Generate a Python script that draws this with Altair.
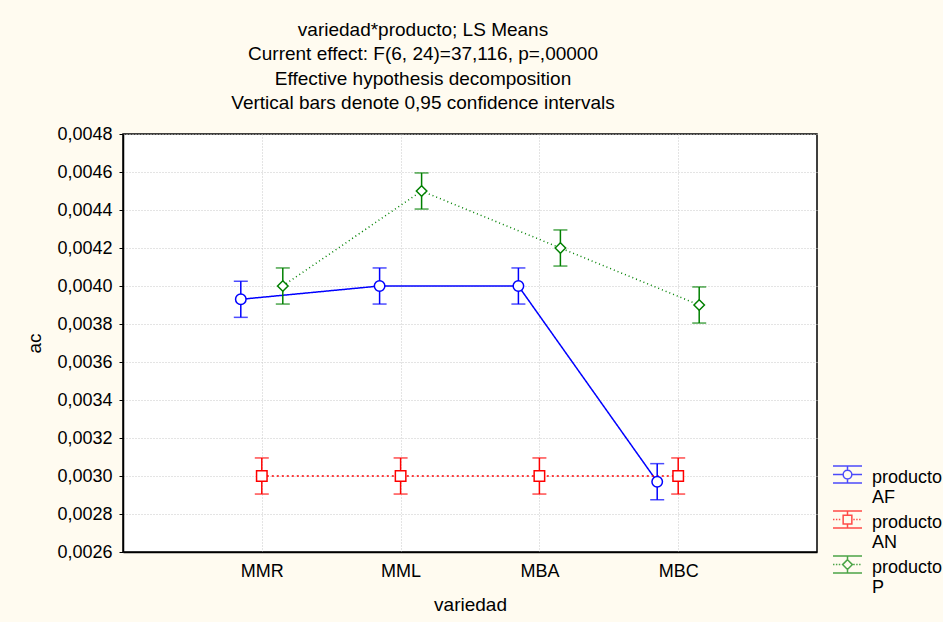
import altair as alt
import pandas as pd

# ---- data ----
variedad = ["MMR", "MML", "MBA", "MBC"]
productos = ["AF", "AN", "P"]
media_AF = [0.00393, 0.00400, 0.00400, 0.00297]
media_AN = [0.00300, 0.00300, 0.00300, 0.00300]
media_P = [0.00400, 0.00450, 0.00420, 0.00390]
ic_AF = [0.000095, 0.000095, 0.000095, 0.000095]
ic_AN = [0.000095, 0.000095, 0.000095, 0.000095]
ic_P = [0.000095, 0.000095, 0.000095, 0.000095]
y_ticks = [0.0026, 0.0028, 0.0030, 0.0032, 0.0034, 0.0036, 0.0038,
           0.0040, 0.0042, 0.0044, 0.0046, 0.0048]
title_lines = [
    "variedad*producto; LS Means",
    "Current effect: F(6, 24)=37,116, p=,00000",
    "Effective hypothesis decomposition",
    "Vertical bars denote 0,95 confidence intervals",
]

rows = []
for prod, means, cis in zip(productos, [media_AF, media_AN, media_P], [ic_AF, ic_AN, ic_P]):
    for v, m, c in zip(variedad, means, cis):
        rows.append({"variedad": v, "producto": prod, "ac": m, "lo": m - c, "hi": m + c})
df = pd.DataFrame(rows)

FONT = "Liberation Sans"
colores = ["#0000FF", "#FF0000", "#008000"]
color_scale = alt.Scale(domain=productos, range=colores)

x_enc = alt.X(
    "variedad:N", sort=variedad,
    scale=alt.Scale(type="point", padding=1),
    axis=alt.Axis(title="variedad", labelAngle=0, ticks=False, tickSize=0,
                  labelPadding=10, titlePadding=15, grid=True),
)
xo_enc = alt.XOffset("producto:N",
                     scale=alt.Scale(type="point", domain=productos, range=[-21, 21], padding=0))
y_scale = alt.Scale(domain=[0.0026, 0.0048], nice=False, zero=False)
y_axis = alt.Axis(title="ac", values=y_ticks, tickCount=12,
                  labelExpr="replace(format(datum.value, '.4f'), '.', ',')",
                  labelOverlap=False,
                  tickSize=4, labelPadding=7, titlePadding=12, grid=True)
y_enc = alt.Y("ac:Q", scale=y_scale, axis=y_axis)
y_lo = alt.Y("lo:Q", scale=y_scale, axis=y_axis)
y_hi = alt.Y("hi:Q", scale=y_scale, axis=y_axis)

base = alt.Chart(df)

lines = base.mark_line(strokeWidth=1.5).encode(
    x=x_enc, xOffset=xo_enc, y=y_enc,
    color=alt.Color("producto:N", scale=color_scale, legend=None),
    strokeDash=alt.StrokeDash("producto:N",
                              scale=alt.Scale(domain=productos, range=[[1, 0], [2, 3], [1, 3]]),
                              legend=None),
    opacity=alt.Opacity("producto:N",
                        scale=alt.Scale(domain=productos, range=[1, 1, 0.55]), legend=None),
)

bars = base.mark_rule(strokeWidth=1.5).encode(
    x=x_enc, xOffset=xo_enc, y=y_lo, y2="hi:Q",
    color=alt.Color("producto:N", scale=color_scale, legend=None),
)
cap_lo = base.mark_tick(orient="horizontal", size=14, thickness=1.5).encode(
    x=x_enc, xOffset=xo_enc, y=y_lo,
    color=alt.Color("producto:N", scale=color_scale, legend=None),
)
cap_hi = base.mark_tick(orient="horizontal", size=14, thickness=1.5).encode(
    x=x_enc, xOffset=xo_enc, y=y_hi,
    color=alt.Color("producto:N", scale=color_scale, legend=None),
)
points = base.mark_point(filled=False, fill="white", fillOpacity=1, size=110,
                         strokeWidth=1.5, opacity=1).encode(
    x=x_enc, xOffset=xo_enc, y=y_enc,
    color=alt.Color("producto:N", scale=color_scale, legend=None),
    shape=alt.Shape("producto:N",
                    scale=alt.Scale(domain=productos, range=["circle", "square", "diamond"]),
                    legend=None),
)

# legend glyphs: marker + error bar + line style, drawn as custom symbol paths
c = -0.2
h = 0.586
def caps():
    return (f"M-1,{c-h:.3f}H1M-1,{c+h:.3f}H1"
            f"M0,{c-h:.3f}V{c-0.3:.3f}M0,{c+0.3:.3f}V{c+h:.3f}")
def dots():
    s = ""
    for a in [-1.0, -0.8, -0.6]:
        s += f"M{a:.2f},{c:.3f}H{a+0.1:.2f}"
    for a in [0.4, 0.6, 0.8]:
        s += f"M{a:.2f},{c:.3f}H{a+0.1:.2f}"
    return s
sym_AF = (caps() + f"M-1,{c:.3f}H-0.3M0.3,{c:.3f}H1"
          f"M0.3,{c:.3f}A0.3,0.3 0 1,1 -0.3,{c:.3f}A0.3,0.3 0 1,1 0.3,{c:.3f}")
sym_AN = caps() + dots() + f"M-0.3,{c-0.3:.3f}H0.3V{c+0.3:.3f}H-0.3Z"
sym_P = caps() + dots() + f"M0,{c-0.34:.3f}L0.34,{c:.3f}L0,{c+0.34:.3f}L-0.34,{c:.3f}Z"

leg = alt.Legend(
    title=None, orient="none", legendX=709, legendY=328,
    labelExpr="['producto', datum.label]",
    labelFont=FONT, labelFontSize=18, labelColor="black", labelBaseline="middle",
    labelOffset=9, labelLimit=300, symbolSize=841, symbolStrokeWidth=1.5,
    rowPadding=-8, padding=0,
)
legend_layer = base.transform_filter("false").mark_point(
    filled=False, size=841, strokeWidth=1.5).encode(
    x=x_enc, y=y_enc,
    color=alt.Color("producto:N", scale=color_scale, legend=leg),
    shape=alt.Shape("producto:N",
                    scale=alt.Scale(domain=productos, range=[sym_AF, sym_AN, sym_P]),
                    legend=leg),
)

chart = alt.layer(lines, bars, cap_lo, cap_hi, points, legend_layer).resolve_scale(
    color="independent", shape="independent", strokeDash="independent", opacity="independent"
).properties(
    width=694, height=418,
    autosize=alt.AutoSizeParams(type="none"),
    padding={"left": 123, "top": 134, "right": 126, "bottom": 70},
    background="#FFFBF0",
    title=alt.TitleParams(text=title_lines, font=FONT, fontSize=19, fontWeight="normal",
                          color="black", lineHeight=24.5, anchor="middle", dx=-47, offset=12),
).configure_view(
    fill="white", stroke="black", strokeWidth=1.5
).configure_axis(
    labelFont=FONT, labelFontSize=18, labelColor="black",
    titleFont=FONT, titleFontSize=19, titleFontWeight="normal", titleColor="black",
    domainColor="black", domainWidth=1.5, tickColor="black",
    gridColor="#c8c8c8", gridDash=[1, 2], gridWidth=1,
)

chart.save("out.html", embed_options={"renderer": "svg", "actions": False})
